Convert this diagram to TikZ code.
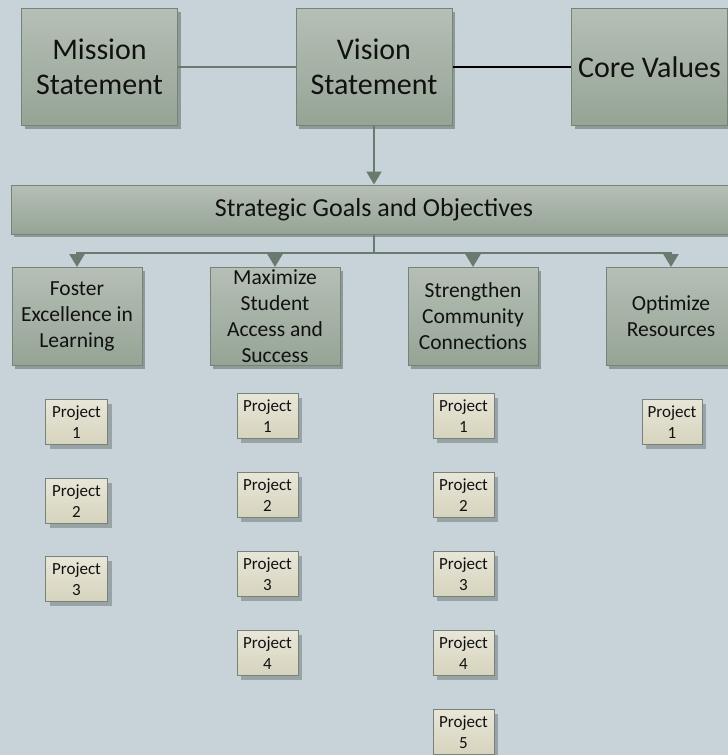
\documentclass[tikz,border=0pt]{standalone}
\usepackage{fontspec}
\setmainfont{Carlito}
\usetikzlibrary{arrows.meta,shadows}
\definecolor{bg}{HTML}{C8D2D9}
\definecolor{boxtop}{HTML}{B6BFB6}
\definecolor{boxbot}{HTML}{95A495}
\definecolor{boxline}{HTML}{77837A}
\definecolor{shadc}{HTML}{8E9A96}
\definecolor{projtop}{HTML}{E8E6D8}
\definecolor{projbot}{HTML}{D6D3BD}
\definecolor{projshad}{HTML}{97A3A4}
\definecolor{conn}{HTML}{6B7A6F}
\definecolor{txt}{HTML}{111111}
\tikzset{
  bigbox/.style={draw=boxline, line width=1pt, top color=boxtop, bottom color=boxbot,
    drop shadow={shadow xshift=3pt, shadow yshift=-3pt, fill=shadc, opacity=1},
    inner sep=0pt, align=center, text=txt},
  topbox/.style={bigbox, minimum width=156pt, minimum height=117pt, font=\fontsize{30}{35}\selectfont},
  goalbox/.style={bigbox, minimum width=130pt, minimum height=98pt, font=\fontsize{21.5}{26}\selectfont},
  projbox/.style={draw=boxline, line width=1pt, top color=projtop, bottom color=projbot,
    drop shadow={shadow xshift=4pt, shadow yshift=-4pt, fill=projshad, opacity=1},
    inner sep=0pt, align=center, text=txt, minimum width=61pt, minimum height=45pt,
    font=\fontsize{17}{21}\selectfont},
  conn/.style={draw=conn, line width=2pt},
  arr/.style={conn, -{Triangle[width=15pt,length=13pt]}}
}
\begin{document}
\begin{tikzpicture}[x=1pt,y=-1pt]
\clip (0,0) rectangle (728,755);
\fill[bg] (0,0) rectangle (728,755);
% top row
\node[topbox] (mission) at (99.5,67) {Mission\\Statement};
\node[topbox] (vision) at (374,67) {Vision\\Statement};
\node[topbox] (core) at (649.5,67) {Core Values};
\draw[conn] (mission.east) -- (vision.west);
\draw[line width=2pt, black] (vision.east) -- (core.west);
% strategic
\node[bigbox, minimum width=726pt, minimum height=49pt, font=\fontsize{26}{30}\selectfont] (strat) at (374,209.5) {Strategic Goals and Objectives};
\draw[arr] (vision.south) -- (strat.north);
% goals
\node[goalbox] (g1) at (77,316.5) {Foster\\Excellence in\\Learning};
\node[goalbox] (g2) at (275,316.5) {Maximize\\Student\\Access and\\Success};
\node[goalbox] (g3) at (473,316.5) {Strengthen\\Community\\Connections};
\node[goalbox] (g4) at (671,316.5) {Optimize\\Resources};
\coordinate (hub) at (374,253);
\draw[conn] (strat.south) -- (hub);
\draw[arr] (hub) -| (g1.north);
\draw[arr] (hub) -| (g2.north);
\draw[arr] (hub) -| (g3.north);
\draw[arr] (hub) -| (g4.north);
% projects
\node[projbox, minimum width=62pt] (p11) at (76.5,422) {Project\\1};
\node[projbox, minimum width=62pt] (p12) at (76.5,501) {Project\\2};
\node[projbox, minimum width=62pt] (p13) at (76.5,579) {Project\\3};
\node[projbox] (p21) at (267.5,416) {Project\\1};
\node[projbox] (p22) at (267.5,495) {Project\\2};
\node[projbox] (p23) at (267.5,574) {Project\\3};
\node[projbox] (p24) at (267.5,653) {Project\\4};
\node[projbox] (p31) at (463.5,416) {Project\\1};
\node[projbox] (p32) at (463.5,495) {Project\\2};
\node[projbox] (p33) at (463.5,574) {Project\\3};
\node[projbox] (p34) at (463.5,653) {Project\\4};
\node[projbox] (p35) at (463.5,732) {Project\\5};
\node[projbox, minimum width=60pt] (p41) at (672,422) {Project\\1};
\end{tikzpicture}
\end{document}
